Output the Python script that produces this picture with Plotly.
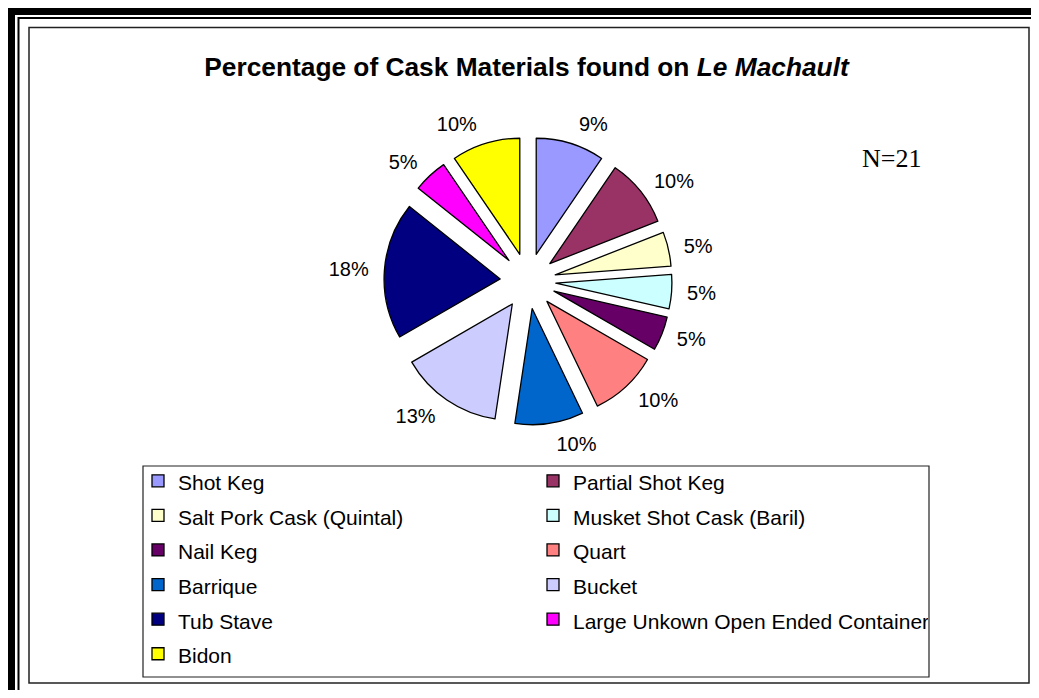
import plotly.graph_objects as go

# The page places the figure 8px from the top-left corner.
FW, FH = 1031, 682
OFF = 8

categories = ["Shot Keg", "Partial Shot Keg", "Salt Pork Cask (Quintal)",
              "Musket Shot Cask (Baril)", "Nail Keg", "Quart", "Barrique",
              "Bucket", "Tub Stave", "Large Unkown Open Ended Container", "Bidon"]
counts = [2, 2, 1, 1, 1, 2, 2, 3, 4, 1, 2]          # N = 21
shown_percent = [9, 10, 5, 5, 5, 10, 10, 13, 18, 5, 10]
colors = ["#9999FF", "#993366", "#FFFFCC", "#CCFFFF", "#660066", "#FF8080",
          "#0066CC", "#CCCCFF", "#000080", "#FF00FF", "#FFFF00"]

label_text = [f"{p}%" for p in shown_percent]
legend_labels = [f"<span style='font-size:21px'>{c}</span>" for c in categories]


def px(x):
    return (x - OFF) / FW


def py(y):
    return 1 - (y - OFF) / FH


CX, CY = 528, 281
HALF_MAIN = 144
HALF_LABEL = 154

fig = go.Figure()
fig.add_trace(go.Pie(
    labels=legend_labels,
    values=counts,
    textinfo="none",
    marker=dict(colors=colors, line=dict(color="black", width=1.3)),
    sort=False,
    direction="clockwise",
    rotation=0,
    pull=[0.24] * len(counts),
    domain=dict(x=[px(CX - HALF_MAIN), px(CX + HALF_MAIN)],
                y=[py(CY + HALF_MAIN), py(CY - HALF_MAIN)]),
    hoverinfo="skip",
))
# transparent copy used only to place the percentage labels
fig.add_trace(go.Pie(
    labels=legend_labels,
    values=counts,
    text=label_text,
    textinfo="text",
    textposition="outside",
    textfont=dict(family="Liberation Sans, Arial", size=20, color="black"),
    marker=dict(colors=["rgba(0,0,0,0)"] * len(counts), line=dict(width=0)),
    sort=False,
    direction="clockwise",
    rotation=0,
    showlegend=False,
    domain=dict(x=[px(CX - HALF_LABEL), px(CX + HALF_LABEL)],
                y=[py(CY + HALF_LABEL), py(CY - HALF_LABEL)]),
    hoverinfo="skip",
))

shapes = [
    dict(type="rect", xref="paper", yref="paper",
         x0=px(11.5), y0=py(11.5), x1=px(1049), y1=py(698.5),
         line=dict(color="black", width=7)),
    dict(type="rect", xref="paper", yref="paper",
         x0=px(18.5), y0=py(18), x1=px(1043), y1=py(691),
         line=dict(color="black", width=2)),
    dict(type="rect", xref="paper", yref="paper",
         x0=px(29), y0=py(27.5), x1=px(1029), y1=py(683),
         line=dict(color="#222222", width=1.5)),
    # legend box
    dict(type="rect", xref="paper", yref="paper",
         x0=px(143), y0=py(466), x1=px(929), y1=py(677),
         line=dict(color="#222222", width=1.2)),
]

fig.update_layout(
    width=FW, height=FH,
    margin=dict(l=0, r=0, t=0, b=0),
    paper_bgcolor="white",
    plot_bgcolor="white",
    shapes=shapes,
    title=dict(
        text="<b>Percentage of Cask Materials found on <i>Le Machault</i></b>",
        x=px(526.5), y=py(67), xanchor="center", yanchor="middle",
        xref="paper", yref="paper",
        font=dict(family="Liberation Sans, Arial", size=26.3, color="black"),
    ),
    annotations=[dict(
        text="N=21", x=px(891), y=py(158), xref="paper", yref="paper",
        showarrow=False, xanchor="center", yanchor="middle",
        font=dict(family="Liberation Serif, Times New Roman", size=26, color="black"),
    )],
    showlegend=True,
    legend=dict(
        orientation="h",
        x=px(138), y=py(458.5), xanchor="left", yanchor="top",
        borderwidth=0,
        bgcolor="rgba(0,0,0,0)",
        font=dict(family="Liberation Sans, Arial", size=24.3, color="black"),
        entrywidth=350, entrywidthmode="pixels",
        traceorder="normal",
    ),
)

fig.write_html("out.html")
